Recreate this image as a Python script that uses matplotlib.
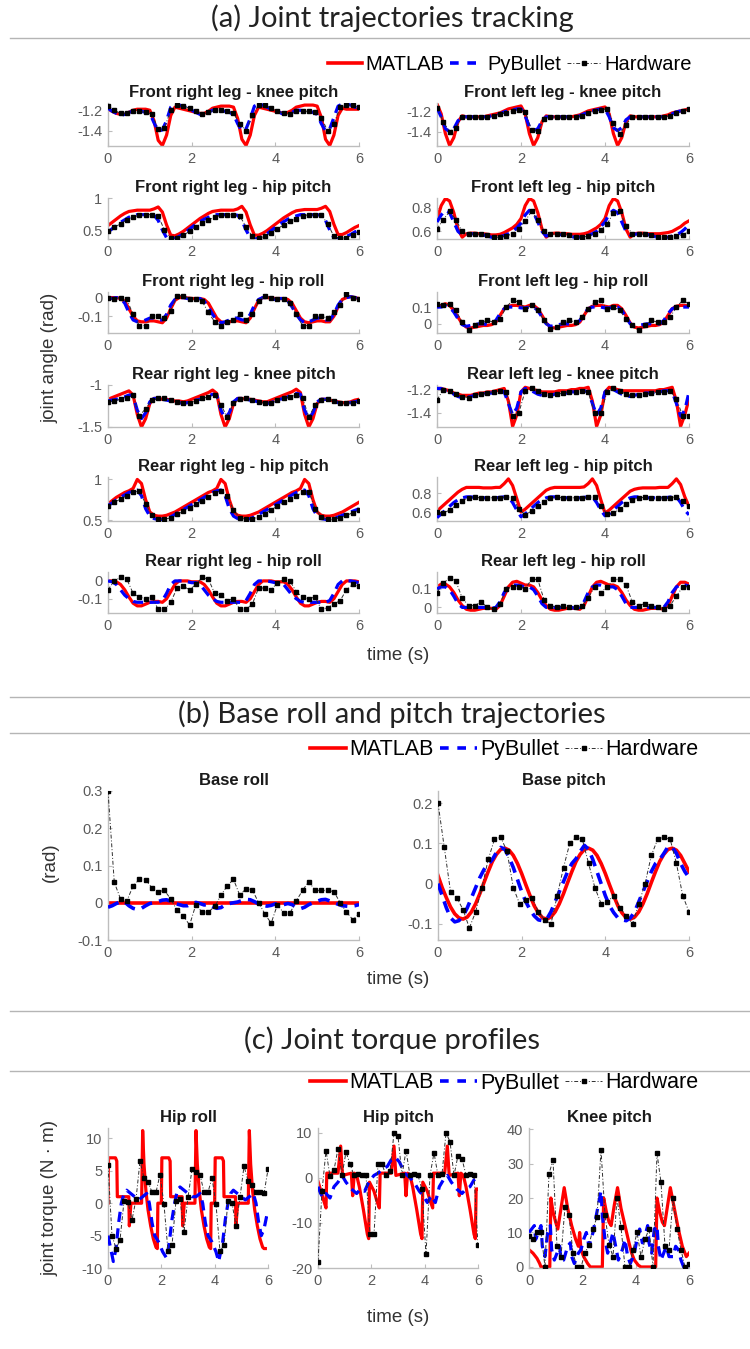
import matplotlib
matplotlib.use("Agg")
import matplotlib.pyplot as plt
import numpy as np
from matplotlib.lines import Line2D
from matplotlib.ticker import FuncFormatter

plt.rcParams["font.family"] = ["Liberation Sans", "DejaVu Sans"]
plt.rcParams["axes.unicode_minus"] = False

# sample times (s)
t_model = np.round(np.arange(0, 6.001, 0.1), 2)
t_hw = np.round(np.arange(0, 6.001, 0.15), 2)

# ---------------- (a) joint angles (rad) ----------------
fr_knee_matlab = [-1.19, -1.21, -1.23, -1.24, -1.24, -1.22, -1.20, -1.19, -1.19, -1.19,
                  -1.20, -1.30, -1.49, -1.54, -1.44, -1.25, -1.17, -1.18, -1.19, -1.20,
                  -1.21, -1.22, -1.23, -1.23, -1.21, -1.18, -1.17, -1.16, -1.16, -1.16,
                  -1.17, -1.28, -1.48, -1.54, -1.44, -1.25, -1.17, -1.18, -1.19, -1.20,
                  -1.21, -1.22, -1.23, -1.22, -1.20, -1.17, -1.16, -1.15, -1.15, -1.15,
                  -1.16, -1.27, -1.48, -1.54, -1.44, -1.25, -1.18, -1.19, -1.19, -1.19,
                  -1.19]
fr_knee_pybullet = [-1.18, -1.21, -1.23, -1.25, -1.24, -1.22, -1.21, -1.21, -1.21, -1.22,
                    -1.23, -1.32, -1.40, -1.39, -1.30, -1.17, -1.14, -1.15, -1.16, -1.18,
                    -1.20, -1.22, -1.24, -1.24, -1.22, -1.20, -1.20, -1.20, -1.21, -1.22,
                    -1.24, -1.33, -1.40, -1.38, -1.28, -1.16, -1.14, -1.15, -1.17, -1.19,
                    -1.21, -1.22, -1.24, -1.24, -1.22, -1.20, -1.20, -1.21, -1.21, -1.22,
                    -1.24, -1.33, -1.40, -1.38, -1.27, -1.16, -1.14, -1.14, -1.15, -1.17,
                    -1.18]
fr_knee_hw = [-1.16, -1.20, -1.23, -1.23, -1.21, -1.21, -1.22, -1.24, -1.38, -1.37,
              -1.20, -1.15, -1.16, -1.18, -1.21, -1.24, -1.22, -1.20, -1.20, -1.21,
              -1.23, -1.33, -1.40, -1.25, -1.15, -1.15, -1.18, -1.21, -1.23, -1.24,
              -1.21, -1.21, -1.21, -1.22, -1.27, -1.40, -1.33, -1.17, -1.15, -1.15,
              -1.17]

fl_knee_matlab = [-1.12, -1.22, -1.42, -1.54, -1.46, -1.30, -1.24, -1.25, -1.25, -1.25,
                  -1.25, -1.25, -1.24, -1.23, -1.22, -1.21, -1.19, -1.17, -1.16, -1.15,
                  -1.14, -1.22, -1.42, -1.54, -1.46, -1.30, -1.24, -1.25, -1.25, -1.25,
                  -1.25, -1.25, -1.25, -1.24, -1.23, -1.21, -1.19, -1.18, -1.17, -1.16,
                  -1.15, -1.22, -1.42, -1.54, -1.46, -1.30, -1.24, -1.25, -1.25, -1.25,
                  -1.25, -1.25, -1.25, -1.25, -1.24, -1.23, -1.21, -1.20, -1.19, -1.18,
                  -1.17]
fl_knee_pybullet = [-1.16, -1.25, -1.37, -1.40, -1.37, -1.29, -1.25, -1.25, -1.25, -1.25,
                    -1.25, -1.25, -1.25, -1.24, -1.23, -1.22, -1.20, -1.19, -1.18, -1.17,
                    -1.17, -1.24, -1.35, -1.39, -1.37, -1.29, -1.25, -1.25, -1.25, -1.25,
                    -1.25, -1.25, -1.25, -1.25, -1.24, -1.22, -1.20, -1.19, -1.18, -1.17,
                    -1.17, -1.25, -1.36, -1.39, -1.36, -1.28, -1.25, -1.25, -1.25, -1.25,
                    -1.25, -1.25, -1.25, -1.25, -1.25, -1.24, -1.22, -1.20, -1.19, -1.18,
                    -1.17]
fl_knee_hw = [-1.16, -1.30, -1.40, -1.36, -1.25, -1.25, -1.25, -1.25, -1.25, -1.24,
              -1.22, -1.21, -1.19, -1.18, -1.20, -1.38, -1.39, -1.27, -1.25, -1.25,
              -1.25, -1.25, -1.25, -1.24, -1.21, -1.19, -1.18, -1.17, -1.31, -1.42,
              -1.33, -1.25, -1.25, -1.25, -1.25, -1.25, -1.25, -1.24, -1.21, -1.19,
              -1.17]

fr_hip_matlab = [0.57, 0.62, 0.67, 0.72, 0.76, 0.79, 0.80, 0.81, 0.81, 0.81,
                 0.81, 0.83, 0.86, 0.78, 0.58, 0.42, 0.41, 0.44, 0.48, 0.53,
                 0.58, 0.63, 0.68, 0.72, 0.76, 0.79, 0.80, 0.81, 0.81, 0.81,
                 0.81, 0.83, 0.87, 0.78, 0.58, 0.42, 0.42, 0.45, 0.49, 0.54,
                 0.59, 0.64, 0.69, 0.73, 0.77, 0.80, 0.81, 0.82, 0.82, 0.82,
                 0.82, 0.84, 0.87, 0.79, 0.59, 0.43, 0.43, 0.46, 0.50, 0.54,
                 0.57]
fr_hip_pybullet = [0.47, 0.52, 0.57, 0.62, 0.66, 0.70, 0.72, 0.74, 0.74, 0.74,
                   0.74, 0.73, 0.65, 0.50, 0.38, 0.36, 0.37, 0.40, 0.44, 0.49,
                   0.54, 0.59, 0.63, 0.67, 0.70, 0.72, 0.74, 0.74, 0.74, 0.74,
                   0.74, 0.73, 0.65, 0.50, 0.38, 0.36, 0.37, 0.40, 0.44, 0.49,
                   0.54, 0.59, 0.63, 0.67, 0.70, 0.72, 0.74, 0.74, 0.74, 0.74,
                   0.74, 0.73, 0.65, 0.50, 0.38, 0.36, 0.37, 0.40, 0.43, 0.47,
                   0.50]
fr_hip_hw = [0.48, 0.54, 0.60, 0.66, 0.70, 0.73, 0.74, 0.74, 0.72, 0.50,
             0.37, 0.38, 0.42, 0.48, 0.55, 0.61, 0.66, 0.70, 0.73, 0.74,
             0.74, 0.72, 0.55, 0.40, 0.37, 0.40, 0.46, 0.52, 0.58, 0.64,
             0.68, 0.72, 0.74, 0.74, 0.73, 0.60, 0.40, 0.37, 0.38, 0.42,
             0.47]

fl_hip_matlab = [0.70, 0.82, 0.88, 0.86, 0.76, 0.62, 0.55, 0.58, 0.585, 0.585,
                 0.58, 0.58, 0.575, 0.57, 0.57, 0.575, 0.59, 0.61, 0.63, 0.66,
                 0.71, 0.82, 0.88, 0.86, 0.76, 0.62, 0.55, 0.58, 0.585, 0.585,
                 0.58, 0.58, 0.575, 0.575, 0.575, 0.58, 0.59, 0.61, 0.63, 0.66,
                 0.71, 0.82, 0.88, 0.86, 0.76, 0.62, 0.55, 0.58, 0.585, 0.585,
                 0.58, 0.58, 0.58, 0.58, 0.585, 0.59, 0.60, 0.62, 0.64, 0.67,
                 0.69]
fl_hip_pybullet = [0.68, 0.74, 0.78, 0.76, 0.68, 0.60, 0.57, 0.575, 0.58, 0.58,
                   0.575, 0.57, 0.56, 0.55, 0.55, 0.555, 0.565, 0.58, 0.60, 0.63,
                   0.67, 0.74, 0.78, 0.76, 0.68, 0.60, 0.56, 0.57, 0.575, 0.575,
                   0.57, 0.565, 0.555, 0.55, 0.55, 0.555, 0.565, 0.58, 0.60, 0.64,
                   0.68, 0.75, 0.78, 0.76, 0.68, 0.60, 0.57, 0.575, 0.58, 0.58,
                   0.575, 0.565, 0.555, 0.55, 0.55, 0.55, 0.56, 0.57, 0.59, 0.62,
                   0.66]
fl_hip_hw = [0.62, 0.70, 0.77, 0.70, 0.60, 0.575, 0.58, 0.575, 0.565, 0.55,
             0.55, 0.56, 0.58, 0.62, 0.69, 0.77, 0.70, 0.60, 0.575, 0.58,
             0.575, 0.565, 0.55, 0.55, 0.56, 0.58, 0.61, 0.66, 0.76, 0.77,
             0.65, 0.58, 0.58, 0.575, 0.565, 0.555, 0.55, 0.55, 0.56, 0.57,
             0.60]

fr_roll_matlab = [0.0, 0.0, 0.0, -0.005, -0.02, -0.06, -0.10, -0.125, -0.13, -0.13,
                  -0.125, -0.125, -0.13, -0.135, -0.11, -0.06, -0.015, 0.0, 0.0, -0.002,
                  -0.005, -0.005, -0.005, -0.01, -0.03, -0.07, -0.11, -0.13, -0.135, -0.13,
                  -0.125, -0.125, -0.13, -0.135, -0.11, -0.06, -0.015, 0.0, 0.0, -0.002,
                  -0.005, -0.005, -0.005, -0.01, -0.03, -0.07, -0.11, -0.13, -0.135, -0.13,
                  -0.125, -0.125, -0.13, -0.13, -0.10, -0.05, -0.01, 0.0, 0.005, 0.0,
                  -0.005]
fr_roll_pybullet = [0.0, -0.005, 0.0, -0.005, -0.03, -0.08, -0.12, -0.13, -0.13, -0.12,
                    -0.11, -0.11, -0.12, -0.12, -0.09, -0.04, -0.01, 0.0, 0.0, -0.005,
                    -0.01, -0.005, -0.005, -0.02, -0.05, -0.09, -0.12, -0.135, -0.13, -0.12,
                    -0.11, -0.11, -0.12, -0.12, -0.09, -0.04, -0.01, 0.0, 0.0, -0.005,
                    -0.01, -0.005, -0.005, -0.02, -0.05, -0.09, -0.12, -0.135, -0.13, -0.12,
                    -0.11, -0.11, -0.12, -0.12, -0.09, -0.04, -0.01, 0.0, 0.005, 0.0,
                    0.0]
fr_roll_hw = [0.0, -0.005, 0.0, -0.01, -0.09, -0.15, -0.15, -0.10, -0.10, -0.11,
              -0.07, 0.01, 0.01, -0.005, -0.005, -0.02, -0.08, -0.13, -0.15, -0.13,
              -0.12, -0.09, -0.12, -0.09, -0.02, 0.01, 0.0, -0.01, -0.01, -0.03,
              -0.09, -0.15, -0.15, -0.10, -0.10, -0.11, -0.08, -0.04, 0.02, 0.0,
              -0.01]

fl_roll_matlab = [0.10, 0.11, 0.12, 0.11, 0.08, 0.04, 0.0, -0.02, -0.025, -0.02,
                  -0.015, -0.01, -0.01, -0.005, 0.01, 0.05, 0.09, 0.105, 0.11, 0.11,
                  0.105, 0.10, 0.11, 0.11, 0.09, 0.05, 0.005, -0.02, -0.025, -0.02,
                  -0.015, -0.01, -0.01, -0.005, 0.01, 0.05, 0.09, 0.105, 0.11, 0.11,
                  0.105, 0.10, 0.11, 0.11, 0.09, 0.05, 0.005, -0.02, -0.025, -0.02,
                  -0.015, -0.01, -0.01, -0.005, 0.01, 0.05, 0.09, 0.105, 0.11, 0.11,
                  0.105]
fl_roll_pybullet = [0.10, 0.10, 0.11, 0.10, 0.07, 0.03, -0.005, -0.015, -0.01, -0.005,
                    0.0, 0.0, -0.005, 0.0, 0.02, 0.06, 0.09, 0.10, 0.10, 0.10,
                    0.095, 0.095, 0.10, 0.10, 0.08, 0.04, 0.0, -0.015, -0.01, -0.005,
                    0.0, 0.0, -0.005, 0.0, 0.02, 0.06, 0.09, 0.10, 0.10, 0.10,
                    0.095, 0.095, 0.10, 0.10, 0.08, 0.04, 0.0, -0.015, -0.01, -0.005,
                    0.0, 0.0, -0.005, 0.0, 0.02, 0.06, 0.09, 0.10, 0.10, 0.10,
                    0.10]
fl_roll_hw = [0.12, 0.11, 0.12, 0.08, 0.01, -0.04, -0.01, 0.01, 0.02, 0.01,
              0.03, 0.10, 0.14, 0.13, 0.09, 0.11, 0.08, 0.02, -0.03, -0.02,
              0.01, 0.02, 0.01, 0.04, 0.09, 0.13, 0.14, 0.09, 0.10, 0.08,
              0.03, -0.01, -0.04, -0.01, 0.02, 0.01, 0.01, 0.04, 0.10, 0.14,
              0.12]

rr_knee_matlab = [-1.17, -1.15, -1.13, -1.11, -1.09, -1.07, -1.12, -1.35, -1.50, -1.40,
                  -1.22, -1.16, -1.16, -1.17, -1.17, -1.18, -1.19, -1.19, -1.20, -1.19,
                  -1.17, -1.15, -1.13, -1.11, -1.09, -1.06, -1.10, -1.35, -1.50, -1.40,
                  -1.22, -1.16, -1.16, -1.17, -1.17, -1.18, -1.19, -1.20, -1.20, -1.18,
                  -1.16, -1.14, -1.12, -1.10, -1.08, -1.05, -1.09, -1.35, -1.50, -1.40,
                  -1.22, -1.17, -1.17, -1.18, -1.19, -1.20, -1.21, -1.21, -1.20, -1.18,
                  -1.17]
rr_knee_pybullet = [-1.19, -1.18, -1.17, -1.15, -1.14, -1.12, -1.13, -1.30, -1.40, -1.33,
                    -1.20, -1.16, -1.16, -1.17, -1.18, -1.19, -1.20, -1.21, -1.22, -1.21,
                    -1.20, -1.18, -1.17, -1.15, -1.13, -1.11, -1.12, -1.30, -1.40, -1.33,
                    -1.20, -1.16, -1.16, -1.17, -1.18, -1.19, -1.20, -1.22, -1.22, -1.21,
                    -1.19, -1.17, -1.16, -1.14, -1.12, -1.10, -1.11, -1.30, -1.40, -1.33,
                    -1.20, -1.17, -1.17, -1.18, -1.19, -1.21, -1.22, -1.22, -1.21, -1.20,
                    -1.19]
rr_knee_hw = [-1.20, -1.19, -1.17, -1.15, -1.12, -1.37, -1.28, -1.18, -1.16, -1.16,
              -1.18, -1.20, -1.22, -1.21, -1.19, -1.16, -1.14, -1.12, -1.24, -1.38,
              -1.22, -1.17, -1.16, -1.18, -1.20, -1.22, -1.21, -1.18, -1.16, -1.14,
              -1.12, -1.15, -1.38, -1.24, -1.18, -1.17, -1.19, -1.21, -1.22, -1.21,
              -1.19]

rl_knee_matlab = [-1.19, -1.19, -1.20, -1.21, -1.23, -1.24, -1.25, -1.25, -1.25, -1.24,
                  -1.23, -1.23, -1.22, -1.22, -1.21, -1.20, -1.19, -1.30, -1.52, -1.42,
                  -1.22, -1.18, -1.19, -1.20, -1.21, -1.22, -1.22, -1.22, -1.22, -1.21,
                  -1.21, -1.21, -1.20, -1.20, -1.19, -1.19, -1.18, -1.30, -1.52, -1.42,
                  -1.22, -1.18, -1.19, -1.20, -1.21, -1.21, -1.21, -1.21, -1.21, -1.21,
                  -1.21, -1.21, -1.21, -1.20, -1.20, -1.19, -1.18, -1.30, -1.52, -1.42,
                  -1.28]
rl_knee_pybullet = [-1.19, -1.19, -1.21, -1.22, -1.24, -1.26, -1.27, -1.27, -1.26, -1.25,
                    -1.24, -1.24, -1.23, -1.23, -1.22, -1.21, -1.22, -1.32, -1.42, -1.36,
                    -1.22, -1.19, -1.20, -1.22, -1.24, -1.25, -1.26, -1.25, -1.24, -1.23,
                    -1.23, -1.23, -1.22, -1.22, -1.21, -1.21, -1.22, -1.32, -1.42, -1.36,
                    -1.22, -1.19, -1.20, -1.22, -1.24, -1.25, -1.26, -1.25, -1.24, -1.23,
                    -1.23, -1.23, -1.22, -1.22, -1.21, -1.21, -1.22, -1.32, -1.43, -1.38,
                    -1.22]
rl_knee_hw = [-1.29, -1.20, -1.21, -1.24, -1.26, -1.27, -1.25, -1.24, -1.23, -1.22,
              -1.21, -1.22, -1.43, -1.40, -1.21, -1.19, -1.21, -1.24, -1.25, -1.24,
              -1.23, -1.22, -1.22, -1.21, -1.22, -1.40, -1.40, -1.22, -1.19, -1.21,
              -1.24, -1.25, -1.25, -1.24, -1.23, -1.22, -1.22, -1.21, -1.28, -1.43,
              -1.43]

rr_hip_matlab = [0.70, 0.74, 0.78, 0.81, 0.84, 0.86, 0.89, 1.00, 0.95, 0.75,
                 0.60, 0.56, 0.55, 0.55, 0.56, 0.58, 0.60, 0.63, 0.66, 0.69,
                 0.72, 0.75, 0.78, 0.81, 0.84, 0.86, 0.89, 1.00, 0.95, 0.75,
                 0.60, 0.56, 0.55, 0.55, 0.56, 0.58, 0.60, 0.63, 0.66, 0.69,
                 0.72, 0.75, 0.78, 0.81, 0.84, 0.86, 0.89, 1.00, 0.95, 0.75,
                 0.60, 0.56, 0.55, 0.55, 0.56, 0.58, 0.60, 0.63, 0.66, 0.69,
                 0.72]
rr_hip_pybullet = [0.68, 0.71, 0.75, 0.78, 0.81, 0.84, 0.86, 0.87, 0.80, 0.64,
                   0.55, 0.52, 0.51, 0.51, 0.52, 0.54, 0.57, 0.60, 0.63, 0.66,
                   0.69, 0.72, 0.75, 0.78, 0.81, 0.84, 0.86, 0.87, 0.80, 0.64,
                   0.55, 0.52, 0.51, 0.51, 0.52, 0.54, 0.57, 0.60, 0.63, 0.66,
                   0.69, 0.72, 0.75, 0.78, 0.81, 0.84, 0.86, 0.87, 0.80, 0.64,
                   0.55, 0.52, 0.51, 0.51, 0.52, 0.54, 0.56, 0.58, 0.60, 0.62,
                   0.64]
rr_hip_hw = [0.67, 0.72, 0.76, 0.80, 0.84, 0.86, 0.70, 0.56, 0.51, 0.51,
             0.53, 0.57, 0.61, 0.65, 0.70, 0.74, 0.79, 0.83, 0.86, 0.80,
             0.62, 0.53, 0.51, 0.51, 0.54, 0.58, 0.63, 0.67, 0.72, 0.76,
             0.80, 0.84, 0.85, 0.64, 0.54, 0.51, 0.51, 0.53, 0.56, 0.59,
             0.62]

rl_hip_matlab = [0.61, 0.65, 0.69, 0.73, 0.77, 0.81, 0.84, 0.86, 0.86, 0.86,
                 0.86, 0.855, 0.855, 0.855, 0.86, 0.86, 0.90, 0.95, 0.88, 0.74,
                 0.60, 0.63, 0.67, 0.71, 0.75, 0.79, 0.83, 0.85, 0.86, 0.86,
                 0.86, 0.86, 0.86, 0.86, 0.86, 0.865, 0.90, 0.95, 0.88, 0.73,
                 0.59, 0.62, 0.66, 0.70, 0.74, 0.78, 0.82, 0.84, 0.85, 0.855,
                 0.855, 0.855, 0.855, 0.86, 0.86, 0.86, 0.90, 0.95, 0.89, 0.76,
                 0.66]
rl_hip_pybullet = [0.54, 0.58, 0.62, 0.66, 0.70, 0.73, 0.75, 0.76, 0.76, 0.755,
                   0.75, 0.75, 0.75, 0.75, 0.75, 0.755, 0.76, 0.76, 0.70, 0.62,
                   0.55, 0.58, 0.62, 0.66, 0.70, 0.73, 0.75, 0.76, 0.76, 0.755,
                   0.75, 0.75, 0.75, 0.75, 0.75, 0.755, 0.76, 0.76, 0.70, 0.62,
                   0.56, 0.58, 0.62, 0.66, 0.70, 0.73, 0.75, 0.76, 0.76, 0.755,
                   0.75, 0.75, 0.75, 0.75, 0.75, 0.755, 0.76, 0.76, 0.70, 0.62,
                   0.57]
rl_hip_hw = [0.60, 0.59, 0.62, 0.67, 0.72, 0.75, 0.755, 0.75, 0.75, 0.75,
             0.75, 0.76, 0.75, 0.63, 0.57, 0.61, 0.66, 0.71, 0.75, 0.755,
             0.75, 0.75, 0.75, 0.75, 0.755, 0.76, 0.66, 0.58, 0.59, 0.63,
             0.68, 0.73, 0.75, 0.755, 0.75, 0.75, 0.75, 0.75, 0.76, 0.72,
             0.66]

rr_roll_matlab = [0.0, 0.0, -0.005, -0.02, -0.05, -0.09, -0.125, -0.14, -0.14, -0.13,
                  -0.12, -0.115, -0.115, -0.12, -0.10, -0.06, -0.02, 0.0, 0.0, 0.0,
                  -0.005, -0.005, -0.005, -0.02, -0.05, -0.09, -0.125, -0.14, -0.14, -0.13,
                  -0.12, -0.115, -0.115, -0.12, -0.10, -0.06, -0.02, 0.0, 0.0, 0.0,
                  -0.005, -0.005, -0.005, -0.02, -0.05, -0.09, -0.125, -0.14, -0.14, -0.13,
                  -0.12, -0.115, -0.115, -0.12, -0.10, -0.06, -0.02, 0.0, 0.0, 0.0,
                  -0.005]
rr_roll_pybullet = [0.0, -0.005, -0.02, -0.05, -0.08, -0.10, -0.115, -0.12, -0.12, -0.12,
                    -0.12, -0.12, -0.12, -0.11, -0.07, -0.02, 0.0, 0.0, 0.0, -0.005,
                    -0.01, -0.01, -0.02, -0.05, -0.08, -0.10, -0.115, -0.12, -0.12, -0.12,
                    -0.12, -0.12, -0.12, -0.11, -0.07, -0.02, 0.0, 0.0, 0.0, -0.005,
                    -0.01, -0.01, -0.02, -0.05, -0.08, -0.10, -0.115, -0.12, -0.12, -0.12,
                    -0.12, -0.12, -0.12, -0.11, -0.07, -0.02, 0.0, 0.0, 0.0, -0.005,
                    -0.01]
rr_roll_hw = [-0.05, 0.0, 0.02, 0.01, -0.07, -0.09, -0.10, -0.09, -0.16, -0.16,
              -0.12, -0.04, -0.03, -0.05, -0.02, 0.02, 0.01, -0.07, -0.08, -0.11,
              -0.10, -0.16, -0.16, -0.13, -0.04, -0.04, -0.05, -0.01, 0.01, 0.0,
              -0.06, -0.09, -0.10, -0.09, -0.16, -0.15, -0.13, -0.11, -0.05, -0.02,
              -0.03]

rl_roll_matlab = [0.11, 0.125, 0.125, 0.11, 0.08, 0.04, 0.01, -0.01, -0.015, -0.015,
                  -0.01, -0.005, -0.005, -0.005, -0.01, 0.01, 0.06, 0.11, 0.135, 0.14,
                  0.13, 0.12, 0.12, 0.11, 0.08, 0.04, 0.01, -0.01, -0.015, -0.015,
                  -0.01, -0.005, -0.005, -0.005, -0.01, 0.01, 0.06, 0.11, 0.135, 0.14,
                  0.13, 0.12, 0.12, 0.11, 0.08, 0.04, 0.01, -0.01, -0.015, -0.015,
                  -0.01, -0.005, -0.005, -0.005, -0.01, 0.01, 0.06, 0.11, 0.135, 0.135,
                  0.125]
rl_roll_pybullet = [0.10, 0.11, 0.11, 0.095, 0.06, 0.02, 0.0, 0.0, 0.0, 0.0,
                    0.0, 0.0, 0.0, -0.005, 0.0, 0.03, 0.08, 0.11, 0.12, 0.12,
                    0.115, 0.11, 0.11, 0.095, 0.06, 0.02, 0.0, 0.0, 0.0, 0.0,
                    0.0, 0.0, 0.0, -0.005, 0.0, 0.03, 0.08, 0.11, 0.12, 0.12,
                    0.115, 0.11, 0.11, 0.095, 0.06, 0.02, 0.0, 0.0, 0.0, 0.0,
                    0.0, 0.0, 0.0, -0.005, 0.0, 0.03, 0.08, 0.11, 0.12, 0.12,
                    0.115]
rl_roll_hw = [0.08, 0.13, 0.16, 0.14, 0.05, 0.01, 0.01, 0.03, 0.0, -0.01,
              0.02, 0.10, 0.11, 0.11, 0.10, 0.15, 0.15, 0.04, 0.01, 0.0,
              0.01, 0.0, 0.0, 0.01, 0.05, 0.11, 0.08, 0.11, 0.15, 0.15,
              0.12, 0.03, 0.01, 0.02, 0.01, 0.0, -0.01, 0.01, 0.06, 0.11,
              0.11]

# ---------------- (b) base orientation (rad) ----------------
base_roll_matlab = [0.0, 0.0, 0.0, 0.0, 0.0, 0.0, 0.0, 0.0, 0.0, 0.0,
                    0.0, 0.0, 0.0, 0.0, 0.0, 0.0, 0.0, 0.0, 0.0, 0.0,
                    0.0, 0.0, 0.0, 0.0, 0.0, 0.0, 0.0, 0.0, 0.0, 0.0,
                    0.0, 0.0, 0.0, 0.0, 0.0, 0.0, 0.0, 0.0, 0.0, 0.0,
                    0.0, 0.0, 0.0, 0.0, 0.0, 0.0, 0.0, 0.0, 0.0, 0.0,
                    0.0, 0.0, 0.0, 0.0, 0.0, 0.0, 0.0, 0.0, 0.0, 0.0,
                    0.0]
base_roll_pybullet = [-0.012, -0.008, -0.002, 0.003, 0.002, -0.008, -0.015, -0.018, -0.015, -0.008,
                      -0.002, 0.0, 0.003, 0.007, 0.008, 0.004, -0.002, -0.005, -0.008, -0.008,
                      -0.003, 0.001, -0.002, -0.006, -0.004, -0.01, -0.015, -0.013, -0.006, -0.002,
                      0.0, 0.002, 0.006, 0.009, 0.008, 0.003, -0.003, -0.007, -0.009, -0.007,
                      -0.003, -0.004, -0.005, -0.002, -0.005, -0.012, -0.016, -0.012, -0.005, 0.0,
                      0.004, 0.008, 0.009, 0.005, 0.0, -0.004, -0.008, -0.009, -0.01, -0.008,
                      -0.005]
base_roll_hw = [0.30, 0.055, 0.01, 0.005, 0.045, 0.063, 0.062, 0.04, 0.03, 0.033,
                0.01, -0.02, -0.035, -0.06, -0.005, -0.025, -0.025, -0.01, 0.02, 0.045,
                0.063, 0.02, 0.038, 0.035, 0.0, -0.03, -0.055, -0.005, -0.028, -0.028,
                0.005, 0.033, 0.057, 0.033, 0.033, 0.033, 0.03, 0.0, -0.025, -0.045,
                -0.03]

base_pitch_matlab = [0.02, -0.01, -0.035, -0.058, -0.075, -0.085, -0.088, -0.083, -0.07, -0.05,
                     -0.025, 0.003, 0.03, 0.055, 0.073, 0.085, 0.088, 0.083, 0.07, 0.05,
                     0.025, -0.003, -0.03, -0.055, -0.073, -0.085, -0.088, -0.083, -0.07, -0.05,
                     -0.025, 0.003, 0.03, 0.055, 0.073, 0.085, 0.088, 0.083, 0.07, 0.05,
                     0.025, -0.003, -0.03, -0.055, -0.073, -0.085, -0.088, -0.083, -0.07, -0.05,
                     -0.025, 0.003, 0.03, 0.055, 0.073, 0.085, 0.088, 0.083, 0.07, 0.05,
                     0.03]
base_pitch_pybullet = [0.0, -0.03, -0.06, -0.085, -0.095, -0.092, -0.08, -0.06, -0.035, -0.01,
                       0.015, 0.035, 0.048, 0.06, 0.078, 0.09, 0.085, 0.065, 0.04, 0.01,
                       -0.02, -0.045, -0.065, -0.08, -0.09, -0.092, -0.088, -0.07, -0.045, -0.02,
                       0.005, 0.03, 0.05, 0.062, 0.08, 0.095, 0.085, 0.06, 0.03, 0.0,
                       -0.03, -0.055, -0.072, -0.085, -0.09, -0.092, -0.085, -0.07, -0.045, -0.02,
                       0.005, 0.03, 0.05, 0.06, 0.075, 0.092, 0.09, 0.075, 0.05, 0.03,
                       0.015]
base_pitch_hw = [0.20, 0.09, -0.02, -0.035, -0.065, -0.11, -0.07, -0.01, 0.06, 0.11,
                 0.115, 0.08, -0.01, -0.05, -0.04, -0.035, -0.07, -0.09, -0.10, -0.03,
                 0.04, 0.10, 0.115, 0.11, 0.05, -0.01, -0.05, -0.045, -0.03, -0.06,
                 -0.08, -0.10, -0.05, 0.0, 0.07, 0.11, 0.115, 0.11, 0.05, -0.03,
                 -0.07]

# ---------------- (c) joint torques (N m) ----------------
hip_roll_matlab_t = [0, 0.02, 0.28, 0.33, 0.35, 0.78, 0.8, 0.86, 1.26, 1.3, 1.35, 1.42, 1.5, 1.6, 1.7, 1.8, 1.85, 1.87, 2.0,
                     2.02, 2.28, 2.33, 2.35, 2.78, 2.8, 2.86, 3.26, 3.3, 3.35, 3.42, 3.5, 3.6, 3.7, 3.8, 3.85, 3.87, 4.0,
                     4.02, 4.28, 4.33, 4.35, 4.78, 4.8, 4.86, 5.26, 5.3, 5.35, 5.42, 5.5, 5.6, 5.7, 5.8, 5.85, 5.9]
hip_roll_matlab = [0, 7, 7, 6.5, 1, 1, -3.5, 0, 0, 11.2, 6, 2, -1, -3.5, -5.5, -6.8, -7, 0, 0,
                   7, 7, 6.5, 1, 1, -3.5, 0, 0, 11.2, 6, 2, -1, -3.5, -5.5, -6.8, -7, 0, 0,
                   7, 7, 6.5, 1, 1, -3.5, 0, 0, 11.2, 6, 2, -1, -3.5, -5.5, -6.8, -7, -7]
hip_roll_pybullet_t = [0, 0.1, 0.2, 0.3, 0.4, 0.5, 0.6, 0.7, 0.85, 1.0,
                       1.15, 1.3, 1.45, 1.55, 1.65, 1.75, 1.9, 2.05, 2.2, 2.3,
                       2.4, 2.5, 2.6, 2.7, 2.85, 3.0, 3.15, 3.3, 3.45, 3.55,
                       3.65, 3.75, 3.9, 4.05, 4.15, 4.3, 4.4, 4.5, 4.6, 4.7,
                       4.85, 5.0, 5.15, 5.3, 5.45, 5.55, 5.65, 5.75, 5.85, 5.95]
hip_roll_pybullet = [-5, -7, -9, -7, -3, 0, 1.5, 2, 1.5, 1,
                     0.5, 1, 1.5, 0, -3, -5, -6, -7.5, -8.5, -6,
                     -2.5, 0, 2, 2.5, 2, 1.5, 1, 1, 1.5, 0,
                     -3, -5, -6, -7.5, -9, -6, -2.5, 0, 1.5, 2,
                     1.5, 1, 0.5, 1, 1.5, 0, -3, -5, -4, -2]
hip_roll_hw = [5.9, -5, -7, -5.7, 0.3, 0.2, -2.6, 0.6, 6.5, 3.9,
               3.3, 1.7, 1.7, 4.4, -0.2, -7.4, -6.5, 0.4, 0.6, -4.4,
               0.9, 5.2, 4.8, 4.4, 1.7, 1.7, 3.9, -0.2, -7.4, -6.5,
               0.4, 0.0, -3.5, 0.9, 5.7, 3.5, 2.8, 1.7, 1.7, 1.5,
               5.2]

hip_pitch_matlab_t = [0, 0.1, 0.2, 0.3, 0.33, 0.75, 0.85, 0.92, 1.25, 1.3, 1.36, 1.45, 1.55, 1.7, 1.85, 1.9, 1.93, 2.1, 2.2,
                      2.3, 2.33, 2.75, 2.85, 2.92, 3.25, 3.3, 3.36, 3.45, 3.55, 3.7, 3.85, 3.9, 3.93, 4.1, 4.2,
                      4.3, 4.33, 4.75, 4.85, 4.92, 5.25, 5.3, 5.36, 5.45, 5.55, 5.7, 5.85, 5.9, 5.93, 6.0]
hip_pitch_matlab = [-0.8, -2.8, -4.8, -6.7, 1, 1, 7, 0.5, 1, -4, 1, 0.5, -2, -7, -12.5, -13.5, -1, -3, -5,
                    -6.7, 1, 1, 7, 0.5, 1, -4, 1, 0.5, -2, -7, -12.5, -13.5, -1, -3, -5,
                    -6.7, 1, 1, 7, 0.5, 1, -4, 1, 0.5, -2, -7, -12.5, -13.5, -2.5, -2.5]
hip_pitch_pybullet_t = [0, 0.1, 0.2, 0.3, 0.45, 0.6, 0.75, 0.9, 1.05, 1.25,
                        1.45, 1.6, 1.75, 1.9, 2.1, 2.25, 2.45, 2.6, 2.75, 2.9,
                        3.05, 3.25, 3.45, 3.6, 3.8, 3.95, 4.1, 4.25, 4.4, 4.55,
                        4.7, 4.85, 5.0, 5.2, 5.4, 5.55, 5.7, 5.85, 6.0]
hip_pitch_pybullet = [-2, -3.5, -4.5, -3.5, -4.5, -2, -1, 0.5, -1, -2.5,
                      -3.5, -2.5, -3, -1, 0.5, 1, 2, 2.5, 4, 4.5,
                      3.5, 1, 0, -1, -3, -4, -5.5, -4, -5.5, -2,
                      -0.5, 0.5, -1, -2.5, -3.5, -2.5, -2, -0.5, 0]
hip_pitch_hw = [-18.6, -3, 6, 0.3, 1.7, 6.4, 0.5, 5.7, 3, 0.5,
                0.8, 0.6, 0.5, -12.5, -12.5, 3, 3, 0.5, 1.5, 9.9,
                9.2, 0.5, 6, 0.5, 0.8, 0.5, -2.6, -17, 0.5, 5.5,
                0.5, 0.8, 9.9, 8, 0.5, 4.9, 4.2, 0.5, 0.8, 0.5,
                -15]

knee_matlab_t = [0, 0.15, 0.3, 0.4, 0.45, 0.78, 0.82, 0.9, 1.0, 1.08,
                 1.2, 1.32, 1.45, 1.6, 1.75, 1.85, 1.9, 1.95, 2.05, 2.2,
                 2.3, 2.75, 2.8, 2.9, 3.0, 3.08, 3.2, 3.32, 3.45, 3.6,
                 3.75, 3.85, 3.95, 4.1, 4.2, 4.75, 4.8, 4.9, 5.0, 5.08,
                 5.18, 5.3, 5.45, 5.6, 5.75, 5.9, 6.0]
knee_matlab = [5, 4, 2.5, 1, 0, 0, 20, 16, 13, 11,
               17, 23, 17, 12, 8, 6, 10, 5, 3, 1,
               0, 0, 20, 16, 13, 12, 18, 23, 17, 12,
               7, 4, 2, 0.5, 0, 0, 20, 16, 13, 12,
               17, 23, 17, 11, 6, 3, 4]
knee_pybullet_t = [0, 0.1, 0.2, 0.25, 0.35, 0.45, 0.5, 0.6, 0.7, 0.8,
                   0.85, 0.95, 1.05, 1.15, 1.2, 1.3, 1.45, 1.55, 1.6, 1.7,
                   1.85, 1.95, 2.05, 2.15, 2.25, 2.4, 2.5, 2.6, 2.7, 2.75,
                   2.85, 2.95, 3.05, 3.15, 3.25, 3.35, 3.5, 3.6, 3.7, 3.8,
                   3.95, 4.05, 4.15, 4.25, 4.35, 4.45, 4.5, 4.6, 4.7, 4.8,
                   4.85, 4.95, 5.05, 5.15, 5.25, 5.4, 5.5, 5.6, 5.7, 5.8,
                   5.9, 6.0]
knee_pybullet = [10, 11, 12, 8, 10, 12, 6, 3, 10, 12,
                 5, 2, 4, 6, 2, 2, 6, 7, 3, 1,
                 4, 5, 8, 10, 6, 10, 14, 18, 22, 15,
                 8, 4, 7, 10, 6, 2, 5, 8, 3, 1,
                 4, 8, 11, 7, 9, 12, 7, 4, 11, 12,
                 6, 2, 4, 6, 3, 3, 6, 5, 2, 0,
                 1, 0]
knee_hw = [9, 8, 10, 10, 0, 27, 31, 6, 3, 17.5,
           15, 4, 0, 0, 4, 6.5, 11, 14.5, 34, 15,
           6.5, 3, 20, 11.5, 0, 0, 5, 10, 3, 8,
           11, 0, 33, 24.5, 6, 5, 20, 11, 5, 0,
           1]

series_labels = ["MATLAB", "PyBullet", "Hardware"]

# ---------------- figure ----------------
W, H = 750, 1349
fig = plt.figure(figsize=(W / 100, H / 100), dpi=100)

RED = "#ff0000"
BLUE = "#0000ff"
DASH = (0, (3.2, 2.0))
HW_LS = (0, (4, 2, 1, 2))
AX_GREY = "#bdbdbd"
TICK_TXT = "#5a5a5a"
fmt = FuncFormatter(lambda v, p: f"{v:g}")


def px_axes(x0, y0, x1, y1):
    return fig.add_axes([x0 / W, 1 - y1 / H, (x1 - x0) / W, (y1 - y0) / H])


def style(ax, ylim, yticks, title):
    ax.set_xlim(0, 6)
    ax.set_ylim(*ylim)
    ax.set_xticks([0, 2, 4, 6])
    ax.set_yticks(yticks)
    ax.yaxis.set_major_formatter(fmt)
    for s in ["top", "right"]:
        ax.spines[s].set_visible(False)
    for s in ["left", "bottom"]:
        ax.spines[s].set_color(AX_GREY)
        ax.spines[s].set_linewidth(1.0)
    ax.tick_params(direction="in", length=3, width=0.8, color=AX_GREY,
                   labelcolor=TICK_TXT, labelsize=10.5, pad=4)
    ax.set_title(title, fontsize=12, fontweight="bold", color="#1a1a1a", pad=4)


def draw(ax, tm, m, tp, p, th, h, lw=2.3, ms=3.2):
    ax.plot(tm, m, color=RED, lw=lw, zorder=2, solid_joinstyle="round")
    ax.plot(tp, p, color=BLUE, lw=lw, ls=DASH, zorder=3)
    ax.plot(th, h, color="#303030", lw=0.7, ls=HW_LS, marker="s", ms=ms,
            mfc="k", mec="k", zorder=4)


def hline(y):
    fig.add_artist(Line2D([10 / W, 1.0], [1 - y / H, 1 - y / H], color="#b5b5b5", lw=1.0))


def section_title(text, x, y):
    fig.text(x / W, 1 - y / H, text, ha="center", va="center", fontsize=21,
             family=["Lato", "DejaVu Sans"], color="#222222")


def legend(xc, y, size):
    handles = [
        Line2D([], [], color=RED, lw=2.6),
        Line2D([], [], color=BLUE, lw=2.6, ls=(0, (2.4, 2.4))),
        Line2D([], [], color="#303030", lw=0.7, ls=HW_LS, marker="s", ms=3,
               mfc="k", mec="k"),
    ]
    fig.legend(handles, series_labels, loc="center", bbox_to_anchor=(xc / W, 1 - y / H),
               ncol=3, frameon=False, fontsize=size, handlelength=1.7,
               handletextpad=0.15, columnspacing=0.3, borderpad=0)


def axis_label(text, x, y, rot=0):
    fig.text(x / W, 1 - y / H, text, ha="center", va="center", rotation=rot,
             fontsize=13.5, color="#333333")


# ----- section (a) -----
section_title("(a) Joint trajectories tracking", 392, 18)
hline(38)
legend(510, 65, 14.5)

joint_panels = [
    ("Front right leg - knee pitch", fr_knee_matlab, fr_knee_pybullet, fr_knee_hw, (-1.545, -1.13), [-1.4, -1.2]),
    ("Front left leg - knee pitch", fl_knee_matlab, fl_knee_pybullet, fl_knee_hw, (-1.545, -1.11), [-1.4, -1.2]),
    ("Front right leg - hip pitch", fr_hip_matlab, fr_hip_pybullet, fr_hip_hw, (0.36, 1.0), [0.5, 1]),
    ("Front left leg - hip pitch", fl_hip_matlab, fl_hip_pybullet, fl_hip_hw, (0.535, 0.885), [0.6, 0.8]),
    ("Front right leg - hip roll", fr_roll_matlab, fr_roll_pybullet, fr_roll_hw, (-0.19, 0.03), [-0.1, 0]),
    ("Front left leg - hip roll", fl_roll_matlab, fl_roll_pybullet, fl_roll_hw, (-0.055, 0.19), [0, 0.1]),
    ("Rear right leg - knee pitch", rr_knee_matlab, rr_knee_pybullet, rr_knee_hw, (-1.5, -1.0), [-1.5, -1]),
    ("Rear left leg - knee pitch", rl_knee_matlab, rl_knee_pybullet, rl_knee_hw, (-1.525, -1.16), [-1.4, -1.2]),
    ("Rear right leg - hip pitch", rr_hip_matlab, rr_hip_pybullet, rr_hip_hw, (0.49, 1.03), [0.5, 1]),
    ("Rear left leg - hip pitch", rl_hip_matlab, rl_hip_pybullet, rl_hip_hw, (0.505, 0.97), [0.6, 0.8]),
    ("Rear right leg - hip roll", rr_roll_matlab, rr_roll_pybullet, rr_roll_hw, (-0.18, 0.05), [-0.1, 0]),
    ("Rear left leg - hip roll", rl_roll_matlab, rl_roll_pybullet, rl_roll_hw, (-0.03, 0.19), [0, 0.1]),
]
row_y = [(103, 146), (198, 239), (292, 333), (385, 427), (477, 521), (572, 613)]
col_x = [(108, 359), (437, 689)]

for i, (title, m, p, h, ylim, yt) in enumerate(joint_panels):
    (y0, y1), (x0, x1) = row_y[i // 2], col_x[i % 2]
    ax = px_axes(x0, y0, x1, y1)
    draw(ax, t_model, m, t_model, p, t_hw, h)
    style(ax, ylim, yt, title)

axis_label("time (s)", 398, 656)
axis_label("joint angle (rad)", 50, 358, rot=90)

# ----- section (b) -----
hline(697)
section_title("(b) Base roll and pitch trajectories", 392, 714)
hline(733)
legend(504, 750, 15.5)

ax = px_axes(108, 791, 359, 940)
draw(ax, t_model, base_roll_matlab, t_model, base_roll_pybullet, t_hw, base_roll_hw, lw=2.6)
style(ax, (-0.1, 0.3), [-0.1, 0, 0.1, 0.2, 0.3], "Base roll")
ax = px_axes(438, 791, 689, 940)
draw(ax, t_model, base_pitch_matlab, t_model, base_pitch_pybullet, t_hw, base_pitch_hw, lw=2.6)
style(ax, (-0.14, 0.23), [-0.1, 0, 0.1, 0.2], "Base pitch")

axis_label("time (s)", 398, 980)
axis_label("(rad)", 50, 862, rot=90)

# ----- section (c) -----
hline(1011)
section_title("(c) Joint torque profiles", 392, 1040)
hline(1071)
legend(504, 1083, 15.5)

torque_panels = [
    ("Hip roll", hip_roll_matlab_t, hip_roll_matlab, hip_roll_pybullet_t, hip_roll_pybullet,
     hip_roll_hw, (-10, 11.6), [-10, -5, 0, 5, 10], (108, 268)),
    ("Hip pitch", hip_pitch_matlab_t, hip_pitch_matlab, hip_pitch_pybullet_t, hip_pitch_pybullet,
     hip_pitch_hw, (-20, 11), [-20, -10, 0, 10], (318, 478)),
    ("Knee pitch", knee_matlab_t, knee_matlab, knee_pybullet_t, knee_pybullet,
     knee_hw, (-0.3, 40.3), [0, 10, 20, 30, 40], (529, 689)),
]
for title, tm, m, tp, p, h, ylim, yt, (x0, x1) in torque_panels:
    ax = px_axes(x0, 1128, x1, 1268)
    draw(ax, tm, m, tp, p, t_hw, h, lw=2.3)
    style(ax, ylim, yt, title)

axis_label("time (s)", 398, 1318)
axis_label("joint torque (N · m)", 50, 1198, rot=90)

fig.savefig("out.png", dpi=100)
